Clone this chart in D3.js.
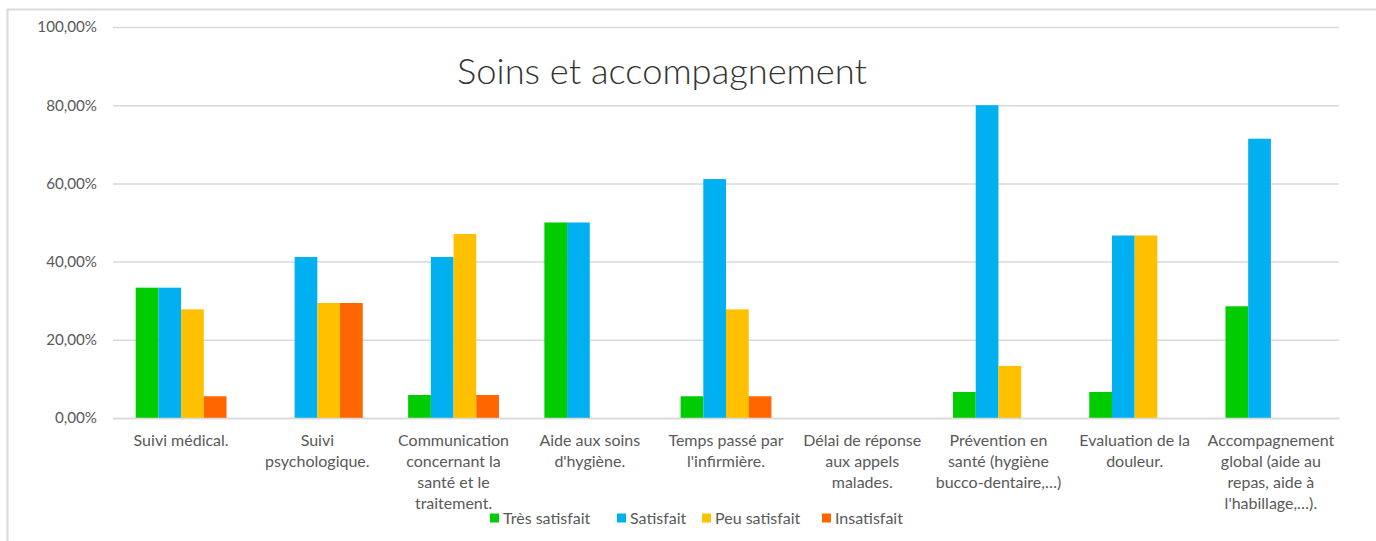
<!DOCTYPE html>
<html>
<head>
<meta charset="utf-8">
<script src="https://cdnjs.cloudflare.com/ajax/libs/d3/7.8.5/d3.min.js"></script>
<style>
  body { margin: 0; background: #fff; }
  svg { display: block; font-family: Lato, 'Open Sans', sans-serif; }
</style>
</head>
<body>
<svg></svg>
<script>
// categories, as Excel wrapped them under the axis
const categories = [
  ['Suivi médical.'],
  ['Suivi', 'psychologique.'],
  ['Communication', 'concernant la', 'santé et le', 'traitement.'],
  ['Aide aux soins', "d'hygiène."],
  ['Temps passé par', "l'infirmière."],
  ['Délai de réponse', 'aux appels', 'malades.'],
  ['Prévention en', 'santé (hygiène', 'bucco-dentaire,…)'],
  ['Evaluation de la', 'douleur.'],
  ['Accompagnement', 'global (aide au', 'repas, aide à', "l'habillage,…)."]
]

const series = ['Très satisfait', 'Satisfait', 'Peu satisfait', 'Insatisfait']
const colors = ['#00cc00', '#00b0f0', '#ffc000', '#ff6600']

// values per series, in category order
const tresSatisfait = [0.3333, 0, 0.0588, 0.5, 0.0556, 0, 0.0667, 0.0667, 0.2857]
const satisfait = [0.3333, 0.4118, 0.4118, 0.5, 0.6111, 0, 0.8, 0.4667, 0.7143]
const peuSatisfait = [0.2778, 0.2941, 0.4706, 0, 0.2778, 0, 0.1333, 0.4667, 0]
const insatisfait = [0.0556, 0.2941, 0.0588, 0, 0.0556, 0, 0, 0, 0]

const yTicks = [0, 0.2, 0.4, 0.6, 0.8, 1]

const width = 1376
const height = 541
const margin = { top: 27, right: 37, bottom: 123, left: 113 }

const svg = d3.select('svg')
  .attr('width', width)
  .attr('height', height)

// chart area border (only left and top show in the crop)
svg.append('path')
  .attr('d', 'M7.5,' + height + ' V9.5 H' + width)
  .attr('fill', 'none')
  .attr('stroke', '#d9d9d9')
  .attr('stroke-width', 2)

const fr = d3.formatLocale({ decimal: ',', thousands: ' ', grouping: [3], currency: ['', ' €'] })
const pct = fr.format('.2%')

const values = [tresSatisfait, satisfait, peuSatisfait, insatisfait]
const data = categories.map((c, i) => ({
  key: i,
  vals: series.map((s, j) => ({ s: j, v: values[j][i] }))
}))

const x0 = d3.scaleBand()
  .domain(d3.range(categories.length))
  .range([margin.left, width - margin.right])

const bw = x0.bandwidth()
const x1 = d3.scaleBand()
  .domain(d3.range(series.length))
  .range([bw / 6, bw * 5 / 6])

const y = d3.scaleLinear()
  .domain([0, 1])
  .range([height - margin.bottom, margin.top])

// y axis with gridlines
const yAxis = svg.append('g')
  .attr('transform', 'translate(' + margin.left + ',0)')
  .call(d3.axisLeft(y)
    .tickValues(yTicks)
    .tickFormat(pct)
    .tickSizeInner(-(width - margin.left - margin.right))
    .tickSizeOuter(0)
    .tickPadding(16))
yAxis.select('.domain').remove()
yAxis.selectAll('.tick line').attr('stroke', '#d9d9d9').attr('stroke-width', 1.5)
yAxis.selectAll('.tick text')
  .attr('fill', '#595959')
  .style('font-size', '15.2px')
  .style('font-family', 'Lato, sans-serif')

// title
svg.append('text')
  .attr('x', 662)
  .attr('y', 84)
  .attr('text-anchor', 'middle')
  .attr('fill', '#333')
  .style('font-size', '36.3px')
  .style('font-weight', 300)
  .text('Soins et accompagnement')

// bars
svg.append('g')
  .selectAll('g')
  .data(data)
  .join('g')
  .attr('transform', d => 'translate(' + x0(d.key) + ',0)')
  .selectAll('rect')
  .data(d => d.vals)
  .join('rect')
  .attr('x', d => x1(d.s))
  .attr('width', x1.bandwidth())
  .attr('y', d => y(d.v))
  .attr('height', d => y(0) - y(d.v))
  .attr('fill', d => colors[d.s])

// x axis
const xAxis = svg.append('g')
  .attr('transform', 'translate(0,' + y(0) + ')')
  .call(d3.axisBottom(x0).tickSize(0).tickFormat(''))
xAxis.select('.domain').attr('stroke', '#d9d9d9').attr('stroke-width', 1.5)

xAxis.selectAll('.tick').each(function (d) {
  const t = d3.select(this).select('text')
    .attr('y', null)
    .attr('dy', null)
    .attr('fill', '#595959')
    .style('font-size', '16px')
    .style('font-family', 'Lato, sans-serif')
  categories[d].forEach((line, k) => {
    t.append('tspan')
      .attr('x', 0)
      .attr('y', 28 + k * 21)
      .text(line)
  })
})

// legend
const legendX = [490, 617, 702, 822]
const legend = svg.append('g')
  .selectAll('g')
  .data(series)
  .join('g')
  .attr('transform', (d, i) => 'translate(' + legendX[i] + ',518)')
legend.append('rect')
  .attr('x', 0)
  .attr('y', -4.5)
  .attr('width', 9)
  .attr('height', 9)
  .attr('fill', (d, i) => colors[i])
legend.append('text')
  .attr('x', 13)
  .attr('dy', '0.35em')
  .attr('fill', '#595959')
  .style('font-size', '16px')
  .text(d => d)
</script>
</body>
</html>
